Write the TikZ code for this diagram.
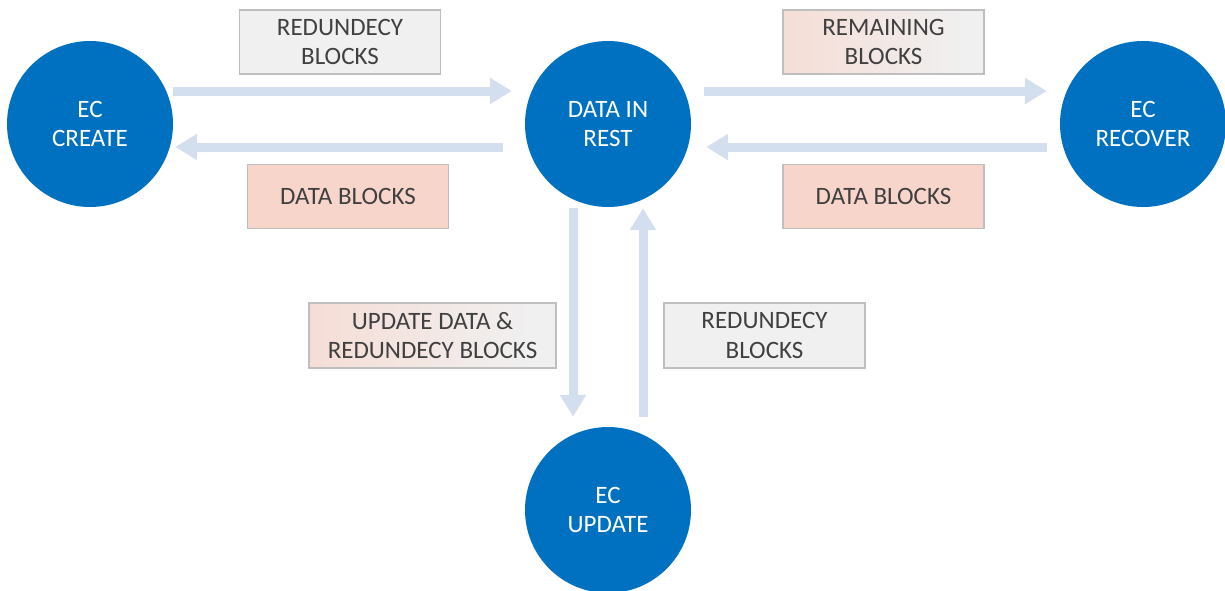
\documentclass[tikz,border=0pt]{standalone}
\usepackage{fontspec}
\setmainfont{Carlito}
\usetikzlibrary{arrows.meta,calc}
\definecolor{circblue}{HTML}{0070C0}
\definecolor{arrowc}{HTML}{D3DEEF}
\definecolor{pinkc}{HTML}{F8D5CA}
\definecolor{grayc}{HTML}{F0F0F0}
\definecolor{borderc}{HTML}{BFBFBF}
\definecolor{textc}{HTML}{404040}
\pgfdeclarehorizontalshading{pinkgray}{100bp}{color(0bp)=(pinkc); color(5bp)=(pinkc); color(70bp)=(grayc); color(100bp)=(grayc)}
\tikzset{
  ecnode/.style={circle, fill=circblue, draw=none, minimum size=166pt, inner sep=0pt,
    text=white, align=center, font=\fontsize{25}{29.5}\selectfont},
  lblbox/.style={rectangle, draw=borderc, line width=1.5pt, inner sep=0pt,
    minimum width=201pt, minimum height=64pt, text=textc, align=center,
    font=\fontsize{25}{29.5}\selectfont},
  graybox/.style={lblbox, fill=grayc},
  pinkbox/.style={lblbox, fill=pinkc},
  gradbox/.style={lblbox, shading=pinkgray},
  flow/.style={draw=arrowc, line width=9pt, -{Triangle[width=25pt,length=22pt]}, color=arrowc}
}
\begin{document}
\begin{tikzpicture}[x=1pt,y=-1pt]
\useasboundingbox (0,0) rectangle (1225,590);
% circles
\node[ecnode] (create) at (90,124) {EC\\CREATE};
\node[ecnode] (rest) at (608,124) {DATA IN\\REST};
\node[ecnode] (recover) at (1143,124) {EC\\RECOVER};
\node[ecnode] (update) at (608,510) {EC\\UPDATE};
% labels
\node[graybox] (b1) at (340,42) {REDUNDECY\\BLOCKS};
\node[pinkbox] (b2) at (348,196.5) {DATA BLOCKS};
\node[gradbox] (b3) at (883.5,42) {REMAINING\\BLOCKS};
\node[pinkbox] (b4) at (883.5,196.5) {DATA BLOCKS};
\node[gradbox, minimum width=247pt, minimum height=65pt] (b5) at (432.5,335.5) {UPDATE DATA \&\\REDUNDECY BLOCKS};
\node[graybox, minimum height=65pt] (b6) at (764.5,335.5) {REDUNDECY\\BLOCKS};
% connectors
\draw[flow] ([yshift=33pt]create.east) -- ([xshift=-13pt,yshift=33pt]rest.west);
\draw[flow] ([xshift=-22pt,yshift=-23pt]rest.west) -- ([xshift=2pt,yshift=-23pt]create.east);
\draw[flow] ([xshift=13pt,yshift=33pt]rest.east) -- ([xshift=-13pt,yshift=33pt]recover.west);
\draw[flow] ([xshift=-13pt,yshift=-23pt]recover.west) -- ([xshift=15pt,yshift=-23pt]rest.east);
\draw[flow] ([xshift=-35pt,yshift=-1pt]rest.south) -- ([xshift=-35pt,yshift=10pt]update.north);
\draw[flow] ([xshift=35pt,yshift=10pt]update.north) -- ([xshift=35pt,yshift=-1pt]rest.south);
\end{tikzpicture}
\end{document}
